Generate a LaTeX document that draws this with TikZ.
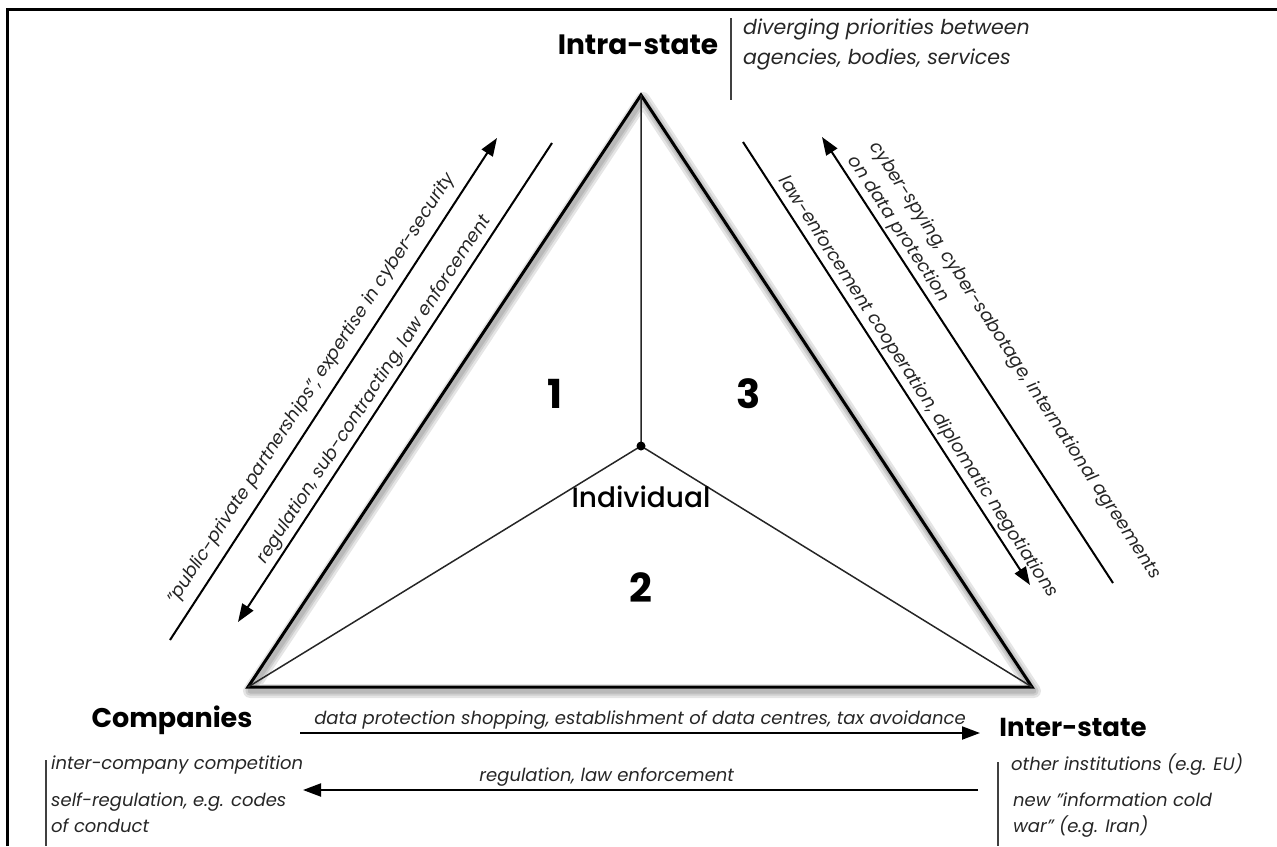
\documentclass[tikz,border=0pt]{standalone}
\usepackage{fontspec}
\setmainfont{Poppins}
\newfontfamily\mediumfont{Poppins Medium}
\usetikzlibrary{arrows.meta, positioning, calc}

\begin{document}
\begin{tikzpicture}[x=1pt, y=-1pt,
    side/.style={line width=3pt, line join=miter},
    spoke/.style={line width=1.5pt, black!85},
    flow/.style={line width=2pt, -{Triangle[length=18pt, width=13pt]}},
    bar/.style={line width=1.2pt, black!75},
    glow/.style={line width=#1, black, opacity=0.1, line join=round},
    note/.style={font=\fontsize{18}{26}\selectfont\itshape, text=black!85, inner sep=3pt},
    actor/.style={font=\fontsize{27}{30}\selectfont\bfseries},
    zone/.style={font=\fontsize{40}{40}\selectfont\bfseries}]

  \useasboundingbox (0,0) rectangle (1277,846);
  % frame
  \draw[line width=3pt] (7.5,846) -- (7.5,9.5) -- (1277,9.5);

  % triangle of actors
  \coordinate (top) at (641,95);
  \coordinate (lft) at (248,687);
  \coordinate (rgt) at (1032,687);
  \coordinate (core) at (641,446);
  \foreach \w in {14,9,5}
    \draw[glow=\w pt] ($(top)+(2,4)$) -- ($(lft)+(2,4)$) -- ($(rgt)+(2,4)$) -- cycle;
  \draw[side] (top) -- (lft) -- (rgt) -- cycle;
  \draw[spoke] (core) -- (top) (core) -- (lft) (core) -- (rgt);
  \fill (core) circle (4.5);

  \node[zone] (one) at (555,394) {1};
  \node[zone] (two) at (641,588) {2};
  \node[zone] (three) at (749,394) {3};
  \node[font=\fontsize{28}{30}\selectfont\mediumfont] (indiv) at (641,497) {Individual};

  \node[actor, font=\fontsize{28}{30}\selectfont\bfseries] (intra) at (638,45) {Intra-state};
  \node[actor] (comp) at (172,720) {Companies};
  \node[actor, font=\fontsize{26}{30}\selectfont\bfseries] (inter) at (1073,727) {Inter-state};

  % side notes
  \draw[bar] (731,18) -- (731,100);
  \node[note, font=\fontsize{20.5}{30}\selectfont\itshape, anchor=north west, align=left] (intranote) at (740,16)
       {diverging priorities between\\agencies, bodies, services};
  \draw[bar] (46,760) -- (46,846);
  \node[note, anchor=west] (rivalry) at (48,765) {inter-company competition};
  \node[note, anchor=north west, align=left] (selfreg) at (48,790)
       {self-regulation, e.g. codes\\of conduct};
  \draw[bar] (998,762) -- (998,846);
  \node[note, anchor=west] (others) at (1008,765) {other institutions (e.g. EU)};
  \node[note, anchor=north west, align=left] (coldwar) at (1010,790)
       {new "information cold\\war" (e.g. Iran)};

  % flows, left side
  \coordinate (ppA) at (170,640);
  \coordinate (ppB) at (497,138);
  \draw[flow] (ppA) -- (ppB)
       node[note, sloped, above=5pt, pos=0.48] (ppp) {"public-private partnerships", expertise in cyber-security};
  \coordinate (rgA) at (552,143);
  \coordinate (rgB) at (238,622);
  \draw[flow] (rgA) -- (rgB)
       node[note, sloped, above, pos=0.53] (regul) {regulation, sub-contracting, law enforcement};

  % flows, right side
  \coordinate (leA) at (743,142);
  \coordinate (leB) at (1030,585);
  \draw[flow] (leA) -- (leB)
       node[note, sloped, above, pos=0.57] (lawenf) {law-enforcement cooperation, diplomatic negotiations};
  \coordinate (csA) at (1113,583);
  \coordinate (csB) at (822,137);
  \draw[flow] (csA) -- (csB)
       node[note, sloped, above, align=left, pos=0.45] (spying)
       {cyber-spying, cyber-sabotage, international agreements\\on data protection};

  % flows, bottom
  \coordinate (dpA) at (300,733);
  \coordinate (dpB) at (980,733);
  \draw[flow] (dpA) -- (dpB)
       node[note, midway, above] (shopping) {data protection shopping, establishment of data centres, tax avoidance};
  \coordinate (reA) at (978,790);
  \coordinate (reB) at (303,790);
  \draw[flow] (reA) -- (reB)
       node[note, above, pos=0.55] (reglaw) {regulation, law enforcement};
\end{tikzpicture}
\end{document}
